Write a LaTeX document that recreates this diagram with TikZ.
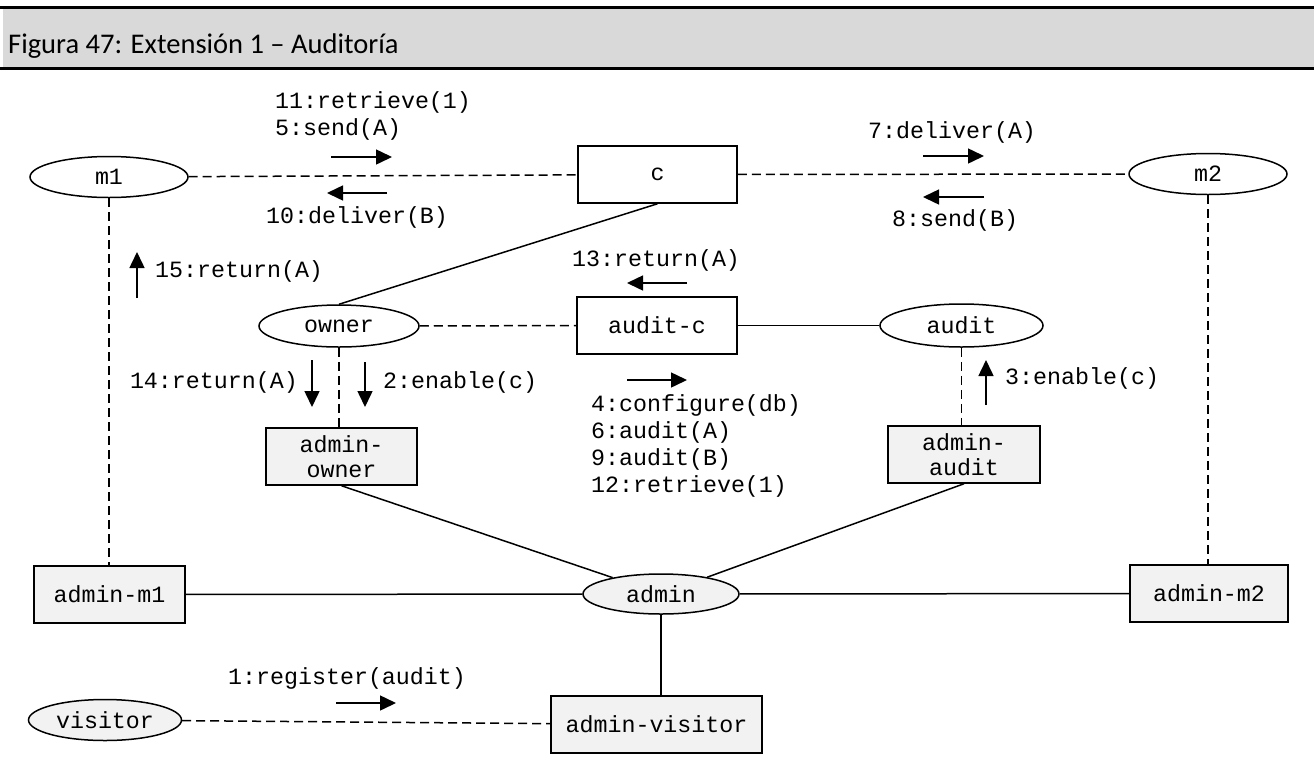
\documentclass[tikz,border=0pt]{standalone}
\usepackage{fontspec}
\setmainfont{Carlito}
\newfontfamily\monof{Liberation Mono}
\usetikzlibrary{arrows.meta,shapes.geometric}
\definecolor{headgray}{HTML}{D9D9D9}
\definecolor{boxgray}{HTML}{F2F2F2}
\begin{document}
\begin{tikzpicture}[x=1pt,y=-1pt,
  mono/.style={font=\monof\fontsize{23.3pt}{26.5pt}\selectfont},
  lbl/.style={mono, inner sep=0pt, anchor=west, align=left},
  box/.style={mono, draw, line width=1.5pt, minimum height=57pt, inner sep=0pt, fill=white, align=center},
  abox/.style={box, fill=boxgray},
  ell/.style={mono, ellipse, draw, line width=1.5pt, inner sep=0pt, fill=white},
  aell/.style={ell, fill=boxgray},
  conn/.style={line width=1.5pt},
  dconn/.style={line width=1.5pt, dash pattern=on 9pt off 5pt},
  msg/.style={line width=1.5pt, -{Triangle[length=16pt,width=15pt]}},
]
\useasboundingbox (0,0) rectangle (1314,761);
% header
\fill[headgray] (3,8) rectangle (1314,68);
\draw[line width=3pt] (0,7.5) -- (1314,7.5);
\draw[line width=3pt] (0,68.5) -- (1314,68.5);
\node[anchor=base west, inner sep=0pt, font=\fontsize{28.5pt}{32pt}\selectfont] (title) at (8,53) {Figura 47: Extensión 1 – Auditoría};

% nodes
\node[ell, minimum width=158pt, minimum height=41pt] (m1) at (109,177) {m1};
\node[box, minimum width=159pt] (c) at (657.5,174.5) {c};
\node[ell, minimum width=158pt, minimum height=41pt] (m2) at (1208,174) {m2};
\node[ell, minimum width=160pt, minimum height=42pt] (owner) at (339,326) {owner};
\node[box, minimum width=160pt] (auditc) at (657,325.5) {audit-c};
\node[ell, minimum width=163pt, minimum height=43pt] (audit) at (961.5,325.5) {audit};
\node[abox, minimum width=151pt] (aowner) at (341.5,456.5) {admin-\\[-1.5pt]owner};
\node[abox, minimum width=152pt] (aaudit) at (964,454.5) {admin-\\[-1.5pt]audit};
\node[abox, minimum width=151pt] (am1) at (109.5,594.5) {admin-m1};
\node[aell, minimum width=156pt, minimum height=40pt] (admin) at (661,594) {admin};
\node[abox, minimum width=158pt] (am2) at (1209,593.5) {admin-m2};
\node[abox, minimum width=211pt] (avis) at (656.5,724.5) {admin-visitor};
\node[aell, minimum width=153pt, minimum height=41pt] (visitor) at (105,720) {visitor};

% connectors
\draw[dconn] (m1) -- (c);
\draw[dconn] (c) -- (m2);
\draw[conn] (c.south) -- (owner.north);
\draw[dconn] (owner) -- (auditc);
\draw[conn] (auditc) -- (audit);
\draw[dconn] (m1.south) -- (m1.south |- am1.north);
\draw[dconn] (m2.south) -- (m2.south |- am2.north);
\draw[dconn] (owner.south) -- (owner.south |- aowner.north);
\draw[dconn] (audit.south) -- (audit.south |- aaudit.north);
\draw[conn] (aowner.south) -- (admin);
\draw[conn] (aaudit.south) -- (admin);
\draw[conn] (am1) -- (admin);
\draw[conn] (admin) -- (am2);
\draw[conn] (admin.south) -- (admin.south |- avis.north);
\draw[dconn] (visitor) -- (avis);

% messages
\node[lbl] (l11) at (275,116) {11:retrieve(1)\\5:send(A)};
\draw[msg] (331,157) -- (392,157);
\draw[msg] (387,193) -- (327,193);
\node[lbl] (l10) at (266,217) {10:deliver(B)};
\node[lbl] (l7) at (868,132) {7:deliver(A)};
\draw[msg] (923,156) -- (984,156);
\draw[msg] (984,197) -- (923,197);
\node[lbl] (l8) at (892,220) {8:send(B)};
\node[lbl] (l15) at (155,271) {15:return(A)};
\draw[msg] (137,298) -- (137,252);
\node[lbl] (l13) at (572,260) {13:return(A)};
\draw[msg] (687,283) -- (627,283);
\node[lbl, anchor=east] (l14) at (298,382) {14:return(A)};
\draw[msg] (312,360) -- (312,407);
\draw[msg] (365,362) -- (365,407);
\node[lbl] (l2) at (383,382) {2:enable(c)};
\draw[msg] (627,380) -- (687,380);
\node[lbl, font=\monof\fontsize{23.3pt}{27pt}\selectfont] (l4) at (591,445.5) {4:configure(db)\\6:audit(A)\\9:audit(B)\\12:retrieve(1)};
\node[lbl] (l3) at (1005,378) {3:enable(c)};
\draw[msg] (986,405) -- (986,360);
\node[lbl] (l1) at (228,678) {1:register(audit)};
\draw[msg] (336,703) -- (396,703);
\end{tikzpicture}
\end{document}
